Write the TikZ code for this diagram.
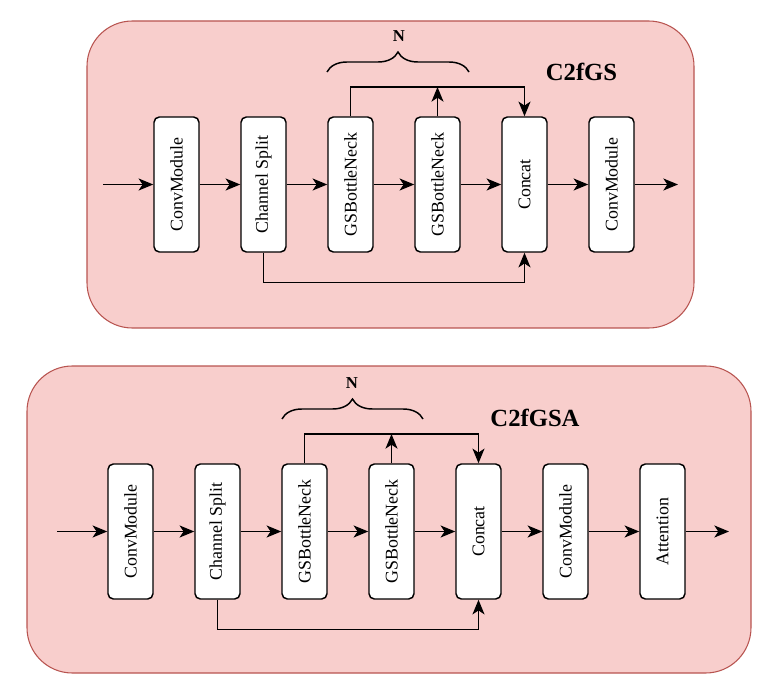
\documentclass[tikz,border=0pt]{standalone}
\usepackage{fontspec}
\setmainfont{Liberation Serif}
\usetikzlibrary{arrows.meta,decorations.pathreplacing}
\definecolor{panelfill}{HTML}{F8CECC}
\definecolor{paneledge}{HTML}{B85450}

\begin{document}
\begin{tikzpicture}[x = 0.75pt, y = -0.75pt, font = \fontsize{13.4}{15}\selectfont,
  panel/.style = {draw = paneledge, fill = panelfill, rounded corners = 34pt, line width = 0.8pt},
  blk/.style = {draw, fill = white, rounded corners = 4pt, line width = 1.1pt,
    minimum width = 33.75pt, minimum height = 101.25pt, inner sep = 0pt},
  flow/.style = {-{Stealth[length = 11pt, width = 9pt, inset = 3pt]}, line width = 1.1pt},
  brc/.style = {decorate, decoration = {brace, amplitude = 15pt}, line width = 1.1pt},
  title/.style = {font = \fontsize{18.5}{20}\selectfont\bfseries},
  rep/.style = {font = \fontsize{12.5}{14}\selectfont\bfseries}]
\useasboundingbox (0,0) rectangle (772,688);

% C2fGS
\draw [panel] (87,21) rectangle (694,328);
\foreach \n/\x/\t in {cm1/176.5/ConvModule, cs1/263.5/Channel Split, gb1/350.5/GSBottleNeck,
  gb2/437.5/GSBottleNeck, cc1/524.5/Concat, cv1/611.5/ConvModule}
  \node [blk] (\n) at (\x,184.5) {\rotatebox{90}{\t}};
\coordinate (in1) at (103,184.5);
\coordinate (out1) at (678,184.5);
\coordinate (up1) at (437.5,87);
\draw [flow] (in1) -- (cm1);
\foreach \a/\b in {cm1/cs1, cs1/gb1, gb1/gb2, gb2/cc1, cc1/cv1}
  \draw [flow] (\a) -- (\b);
\draw [flow] (cv1) -- (out1);
\draw [flow] (gb1.north) |- (up1) -| (cc1.north);
\draw [flow] (gb2.north) -- (up1);
\draw [flow] (cs1.south) -- ++(0,30) -| (cc1.south);
\draw [brc] (327,72) -- (469,72);
\node [rep] (n1) at (399,36) {N};
\node [title] (t1) at (581.5,71.5) {C2fGS};

% C2fGSA
\draw [panel] (27,366) rectangle (751,673);
\foreach \n/\x/\t in {cm2/130.5/ConvModule, cs2/217.5/Channel Split, gb3/304.5/GSBottleNeck,
  gb4/391.5/GSBottleNeck, cc2/478.5/Concat, cv2/565.5/ConvModule, at2/662.5/Attention}
  \node [blk] (\n) at (\x,531.5) {\rotatebox{90}{\t}};
\coordinate (in2) at (57,531.5);
\coordinate (out2) at (729,531.5);
\coordinate (up2) at (391.5,434);
\draw [flow] (in2) -- (cm2);
\foreach \a/\b in {cm2/cs2, cs2/gb3, gb3/gb4, gb4/cc2, cc2/cv2, cv2/at2}
  \draw [flow] (\a) -- (\b);
\draw [flow] (at2) -- (out2);
\draw [flow] (gb3.north) |- (up2) -| (cc2.north);
\draw [flow] (gb4.north) -- (up2);
\draw [flow] (cs2.south) -- ++(0,30) -| (cc2.south);
\draw [brc] (282,419) -- (423,419);
\node [rep] (n2) at (352,383) {N};
\node [title] (t2) at (535,418) {C2fGSA};
\end{tikzpicture}
\end{document}
